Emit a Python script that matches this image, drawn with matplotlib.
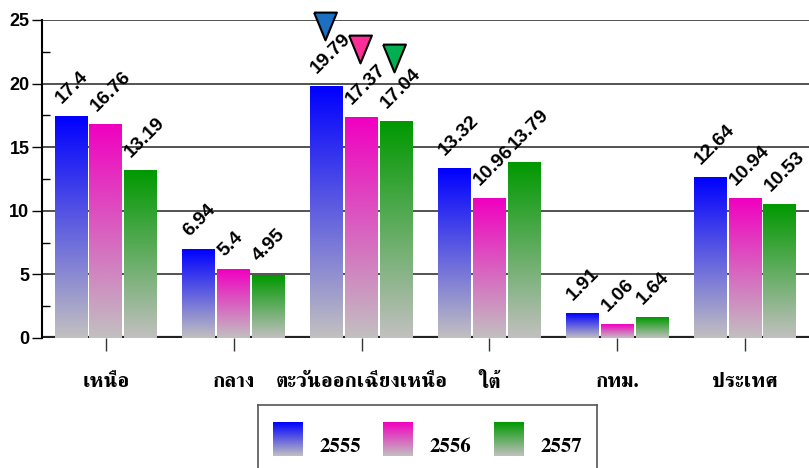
import numpy as np
import matplotlib
matplotlib.use('Agg')
import matplotlib.pyplot as plt
from matplotlib.colors import LinearSegmentedColormap

# data
regions = ['เหนือ', 'กลาง', 'ตะวันออกเฉียงเหนือ', 'ใต้', 'กทม.', 'ประเทศ']
years = ['2555', '2556', '2557']
v2555 = [17.4, 6.94, 19.79, 13.32, 1.91, 12.64]
v2556 = [16.76, 5.4, 17.37, 10.96, 1.06, 10.94]
v2557 = [13.19, 4.95, 17.04, 13.79, 1.64, 10.53]
series = [v2555, v2556, v2557]

# triangle markers over the north-east group
marker_group = 2
marker_levels = [24.5, 22.7, 22.0]
marker_colors = ['#1c6fc1', '#ff2d98', '#00b050']

top_colors = ['#0000ff', '#f000c0', '#009900']
bottom_color = '#c2c0c0'
thai_font = ['FreeSerif', 'DejaVu Serif']
num_font = ['Liberation Sans', 'DejaVu Sans']

W, H = 809, 468
fig = plt.figure(figsize=(W / 100, H / 100), dpi=100)
ax = fig.add_axes([42 / W, (H - 338) / H, (W - 42) / W, (338 - 20) / H])

width = 0.258
offsets = [-0.272, 0.0, 0.272]
x = np.arange(len(regions))

cmaps = [LinearSegmentedColormap.from_list('c%d' % i, [bottom_color, c])
         for i, c in enumerate(top_colors)]
grad = np.linspace(0, 1, 256).reshape(-1, 1)

for s, vals in enumerate(series):
    for i, v in enumerate(vals):
        x0 = x[i] + offsets[s] - width / 2
        ax.imshow(grad, cmap=cmaps[s], origin='lower', aspect='auto',
                  extent=[x0, x0 + width, 0, v], zorder=2, interpolation='bicubic')
        ax.annotate(f'{v:g}', (x0, v), xytext=(7, 7), textcoords='offset points',
                    rotation=45, rotation_mode='anchor', ha='left', va='bottom',
                    fontsize=14, fontweight='bold', family=num_font, zorder=5)

# taller-than-wide down triangle
tri = [(-0.82, 1), (0.82, 1), (0, -1), (-0.82, 1)]
for s, lvl in enumerate(marker_levels):
    ax.plot(x[marker_group] + offsets[s] - 0.015, lvl, marker=tri, markersize=20,
            color=marker_colors[s], markeredgecolor='black', markeredgewidth=1.5,
            clip_on=False, zorder=6)

ax.set_xlim(-0.5, 5.5)
ax.set_ylim(0, 25)
ax.set_yticks([0, 5, 10, 15, 20, 25])
ax.set_yticks(np.arange(2.5, 25, 5), minor=True)
ax.yaxis.grid(True, color='#444444', linewidth=1.3, zorder=0)
ax.set_axisbelow(True)
ax.axhline(0, color='#222222', linewidth=3, zorder=1)

ax.set_xticks(x)
ax.set_xticklabels(regions, family=thai_font, fontweight='bold', fontsize=15)
ax.tick_params(axis='x', length=9, width=1, color='#333333', pad=16)
ax.tick_params(axis='y', which='major', length=7, width=1, direction='out',
               labelsize=13, pad=2)
ax.tick_params(axis='y', which='minor', length=6, width=1, direction='in')
for lab in ax.get_yticklabels():
    lab.set_fontweight('bold')
    lab.set_family(num_font)

for side in ['top', 'right', 'bottom']:
    ax.spines[side].set_visible(False)
ax.spines['left'].set_linewidth(1.5)

# legend box drawn by hand so the swatches keep their gradient
lax = fig.add_axes([258 / W, -0.1, (597 - 258) / W, (468 - 405) / H + 0.1])
lax.set_xticks([])
lax.set_yticks([])
for sp in lax.spines.values():
    sp.set_linewidth(1.2)
    sp.set_color('#555555')
sw_x = [273, 383, 494]
for s, yr in enumerate(years):
    lax.imshow(grad, cmap=cmaps[s], origin='lower', aspect='auto',
               extent=[sw_x[s], sw_x[s] + 30, 456, 422], interpolation='bicubic')
    lax.text(sw_x[s] + 47, 447, yr, family=thai_font, fontweight='bold',
             fontsize=15, va='center', ha='left')
lax.set_xlim(258, 597)
lax.set_ylim(468 + 0.1 * H, 405)

fig.savefig('out.png', dpi=100)
